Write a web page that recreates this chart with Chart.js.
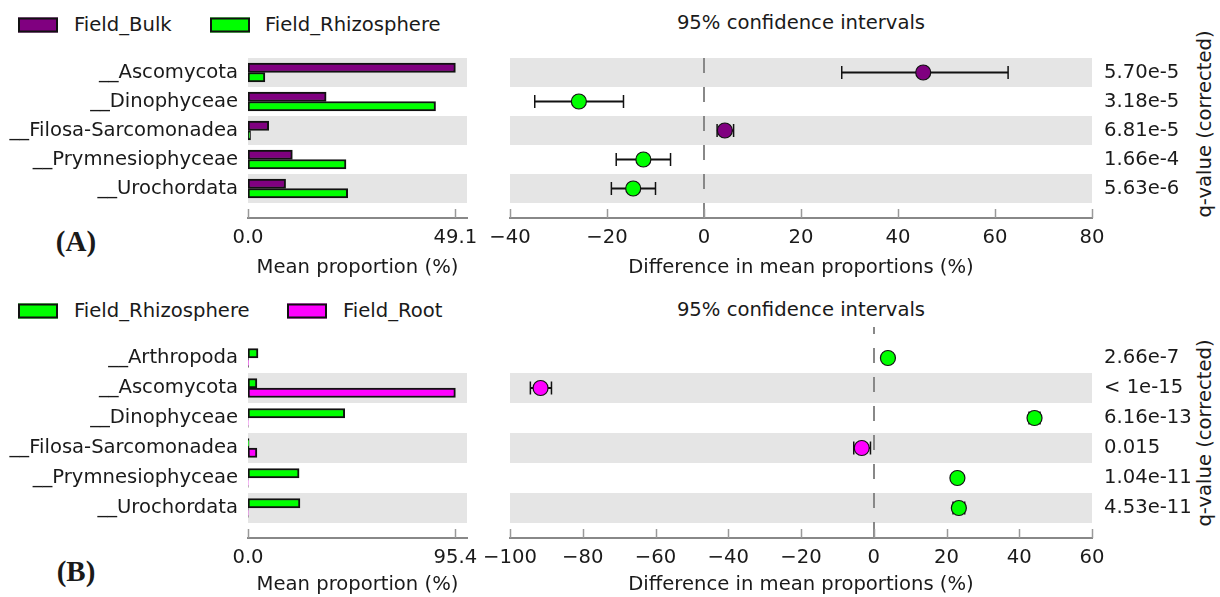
<!DOCTYPE html>
<html>
<head>
<meta charset="utf-8">
<script src="https://cdn.jsdelivr.net/npm/chart.js@4.4.1/dist/chart.umd.min.js"></script>
<style>
body { margin: 0; width: 1220px; height: 597px; position: relative; overflow: hidden; background: #fff; font-family: "DejaVu Sans"; color: #1a1a1a; }
canvas { position: absolute; }
.t { position: absolute; white-space: nowrap; font-size: 19.6px; line-height: 1; transform: translate(-50%, -50%); }
.leg { position: absolute; white-space: nowrap; font-size: 19.6px; line-height: 1; transform: translateY(-50%); }
.box { position: absolute; width: 40px; height: 15px; box-sizing: border-box; border: 2px solid #111; transform: translateY(-50%); }
.panel { position: absolute; font-family: "Liberation Serif"; font-weight: bold; font-size: 29px; transform: translate(-50%, -50%); }
.q { position: absolute; white-space: nowrap; font-size: 19.6px; line-height: 1; transform: translate(-50%, -50%) rotate(-90deg); }
</style>
</head>
<body>

<div class="box" style="left:18px;top:25px;background:#800080"></div>
<div class="leg" style="left:74px;top:25px">Field_Bulk</div>
<div class="box" style="left:210px;top:25px;background:#00ff00"></div>
<div class="leg" style="left:265px;top:25px">Field_Rhizosphere</div>
<div class="t" style="left:801px;top:23px">95% confidence intervals</div>
<div class="q" style="left:1205px;top:124px">q-value (corrected)</div>
<div class="panel" style="left:76px;top:241px">(A)</div>

<div class="box" style="left:18px;top:311px;background:#00ff00"></div>
<div class="leg" style="left:74px;top:311px">Field_Rhizosphere</div>
<div class="box" style="left:287px;top:311px;background:#ff00ff"></div>
<div class="leg" style="left:343px;top:311px">Field_Root</div>
<div class="t" style="left:801px;top:310px">95% confidence intervals</div>
<div class="q" style="left:1205px;top:433px">q-value (corrected)</div>
<div class="panel" style="left:76px;top:571px">(B)</div>

<canvas id="barA" width="480" height="240" style="left:0;top:40px"></canvas>
<canvas id="ciA" width="740" height="240" style="left:480px;top:40px"></canvas>
<canvas id="barB" width="480" height="297" style="left:0;top:300px"></canvas>
<canvas id="ciB" width="740" height="297" style="left:480px;top:300px"></canvas>

<script>
// panel A : Field_Bulk vs Field_Rhizosphere
const taxaA = ['__Ascomycota', '__Dinophyceae', '__Filosa-Sarcomonadea', '__Prymnesiophyceae', '__Urochordata'];
const bulkA = [49.1, 18.5, 4.9, 10.5, 8.9];
const rhizoA = [4.0, 44.4, 0.6, 23.2, 23.6];
const diffA = [45.2, -25.8, 4.3, -12.5, -14.6];
const lowA = [28.4, -34.9, 2.7, -18.1, -19.1];
const highA = [62.7, -16.6, 6.1, -6.9, -10.0];
const qA = ['5.70e-5', '3.18e-5', '6.81e-5', '1.66e-4', '5.63e-6'];

// panel B : Field_Rhizosphere vs Field_Root
const taxaB = ['__Arthropoda', '__Ascomycota', '__Dinophyceae', '__Filosa-Sarcomonadea', '__Prymnesiophyceae', '__Urochordata'];
const rhizoB = [4.6, 4.1, 44.5, 0.5, 23.5, 23.9];
const rootB = [0.2, 95.4, 0.1, 4.1, 0.1, 0.1];
const diffB = [3.9, -91.6, 44.2, -3.3, 23.0, 23.4];
const lowB = [3.3, -94.4, 42.7, -5.5, 22.3, 21.8];
const highB = [4.5, -88.6, 45.7, -0.9, 23.7, 25.0];
const qB = ['2.66e-7', '< 1e-15', '6.16e-13', '0.015', '1.04e-11', '4.53e-11'];

const xTicksA = [-40, 80];
const xTicksB = [-100, 60];

const PURPLE = '#800080', GREEN = '#00ff00', MAGENTA = '#ff00ff';
const font = {family: 'DejaVu Sans', size: 19.6};
const txt = '#1a1a1a';

// grey rows behind every other taxon
const bands = (first, count) => ({
    id: 'bands',
    beforeDatasetsDraw(chart) {
        const {ctx, chartArea: a} = chart;
        const y = chart.scales.y;
        ctx.save();
        ctx.fillStyle = '#e5e5e5';
        for (let i = first; i < count; i += 2) {
            const t = y.getPixelForValue(i - 0.5);
            const b = y.getPixelForValue(i + 0.5);
            ctx.fillRect(a.left, t, a.right - a.left, b - t);
        }
        ctx.restore();
    }
});

// dashed line at zero difference
const zeroLine = (offset) => ({
    id: 'zeroLine',
    beforeDatasetsDraw(chart) {
        const {ctx, chartArea: a} = chart;
        const x = Math.round(chart.scales.x.getPixelForValue(0));
        ctx.save();
        ctx.strokeStyle = '#888';
        ctx.lineWidth = 2;
        ctx.setLineDash([15, 14]);
        ctx.lineDashOffset = offset;
        ctx.beginPath();
        ctx.moveTo(x, a.top);
        ctx.lineTo(x, a.bottom);
        ctx.stroke();
        ctx.restore();
    }
});

// small ticks pointing up from the x axis
const upTicks = {
    id: 'upTicks',
    afterDraw(chart) {
        const {ctx, chartArea: a} = chart;
        const x = chart.scales.x;
        ctx.save();
        ctx.strokeStyle = '#999';
        ctx.lineWidth = 1.5;
        x.ticks.forEach(t => {
            const px = Math.round(x.getPixelForValue(t.value)) + 0.5;
            ctx.beginPath();
            ctx.moveTo(px, a.bottom);
            ctx.lineTo(px, a.bottom - 9);
            ctx.stroke();
        });
        ctx.restore();
    }
};

// keep the plot area fixed, labels may hang over the edges
const fitX = (h) => s => { s.height = h; s.paddingLeft = 0; s.paddingRight = 0; };

const barChart = (id, taxa, s1, s2, c1, c2, ymin, ymax, bandFirst, xHeight, top) => {
    const vmax = Math.max(...s1, ...s2);
    new Chart(document.getElementById(id), {
        type: 'bar',
        data: {
            datasets: [
                {data: s1.map((v, i) => ({x: v, y: i})), backgroundColor: c1},
                {data: s2.map((v, i) => ({x: v, y: i})), backgroundColor: c2}
            ]
        },
        options: {
            indexAxis: 'y',
            responsive: false,
            animation: false,
            events: [],
            layout: {padding: {top: top, right: 13, left: 0, bottom: 0}},
            datasets: {bar: {barThickness: 9.5, borderWidth: 2, borderColor: '#111', borderSkipped: false}},
            plugins: {legend: {display: false}, tooltip: {enabled: false}},
            scales: {
                y: {
                    type: 'linear', reverse: true, min: ymin, max: ymax, offset: false,
                    grid: {display: false, drawTicks: false, offset: false}, border: {display: false},
                    afterBuildTicks: s => { s.ticks = taxa.map((n, i) => ({value: i})); },
                    afterFit: s => { s.width = 248; s.paddingTop = 0; s.paddingBottom = 0; },
                    ticks: {autoSkip: false, padding: 10, color: txt, font: font, callback: v => taxa[v]}
                },
                x: {
                    type: 'linear', min: 0, max: vmax * 1.056,
                    grid: {display: false, drawTicks: false},
                    border: {display: true, color: '#888', width: 2},
                    afterBuildTicks: s => { s.ticks = [{value: 0}, {value: vmax}]; },
                    afterFit: fitX(xHeight),
                    ticks: {autoSkip: false, padding: 8, maxRotation: 0, color: txt, font: font, callback: v => v.toFixed(1)},
                    title: {display: true, text: 'Mean proportion (%)', color: txt, font: font, padding: {top: 0, bottom: 0}}
                }
            }
        },
        plugins: [bands(bandFirst, taxa.length), upTicks]
    });
};

const ciChart = (id, taxa, diff, low, high, q, cPos, cNeg, xr, ymin, ymax, bandFirst, xHeight, top, dashOff) => {
    const dots = {
        order: 0,
        data: diff.map((d, i) => ({x: d, y: i})),
        pointRadius: 7.5,
        pointBackgroundColor: diff.map(d => d > 0 ? cPos : cNeg),
        pointBorderColor: '#111',
        pointBorderWidth: 1.2
    };
    const bars = taxa.map((n, i) => ({
        order: 1,
        showLine: true,
        data: [{x: low[i], y: i}, {x: high[i], y: i}],
        borderColor: '#111',
        borderWidth: 2,
        pointStyle: 'line',
        rotation: 90,
        pointRadius: 6.5,
        pointBorderColor: '#111',
        pointBorderWidth: 1.5
    }));
    new Chart(document.getElementById(id), {
        type: 'scatter',
        data: {datasets: [dots, ...bars]},
        options: {
            responsive: false,
            animation: false,
            events: [],
            layout: {padding: {top: top, left: 30, right: 0, bottom: 0}},
            plugins: {legend: {display: false}, tooltip: {enabled: false}},
            scales: {
                y: {
                    type: 'linear', reverse: true, min: ymin, max: ymax, display: false
                },
                q: {
                    type: 'linear', position: 'right', reverse: true, min: ymin, max: ymax,
                    grid: {display: false, drawTicks: false}, border: {display: false},
                    afterBuildTicks: s => { s.ticks = q.map((n, i) => ({value: i})); },
                    afterFit: s => { s.width = 128; s.paddingTop = 0; s.paddingBottom = 0; },
                    ticks: {autoSkip: false, padding: 12, color: txt, font: font, callback: v => q[v]}
                },
                x: {
                    type: 'linear', min: xr[0], max: xr[1],
                    grid: {display: false, drawTicks: false},
                    border: {display: true, color: '#888', width: 2},
                    afterFit: fitX(xHeight),
                    ticks: {stepSize: 20, autoSkip: false, padding: 8, maxRotation: 0, color: txt, font: font,
                        callback: v => v < 0 ? '\u2212' + Math.abs(v) : String(v)},
                    title: {display: true, text: 'Difference in mean proportions (%)', color: txt, font: font, padding: {top: 0, bottom: 0}}
                }
            }
        },
        plugins: [bands(bandFirst, taxa.length), zeroLine(dashOff), upTicks]
    });
};

barChart('barA', taxaA, bulkA, rhizoA, PURPLE, GREEN, -0.5, 4.5 + 15 / 29, 0, 62, 18);
ciChart('ciA', taxaA, diffA, lowA, highA, qA, PURPLE, GREEN, xTicksA, -0.5, 4.5 + 15 / 29, 0, 62, 18, 0);
barChart('barB', taxaB, rhizoB, rootB, GREEN, MAGENTA, -0.5 - 16 / 30, 6.0, 1, 59, 27);
ciChart('ciB', taxaB, diffB, lowB, highB, qB, GREEN, MAGENTA, xTicksB, -0.5 - 16 / 30, 6.0, 1, 59, 27, 8);
</script>
</body>
</html>
